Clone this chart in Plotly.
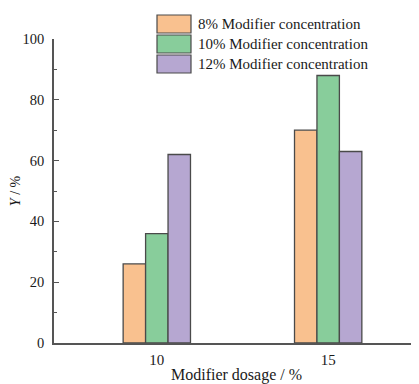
import plotly.graph_objects as go

dosage = [10, 15]
series_names = ["8% Modifier concentration", "10% Modifier concentration", "12% Modifier concentration"]
values_8 = [26, 70]
values_10 = [36, 88]
values_12 = [62, 63]
colors = ["#F9C18F", "#88CD9B", "#B6A7D1"]

# the page shows the figure with an 8px body margin
OFF = 8
W, H = 419 - OFF, 384 - OFF
ML, MR, MT, MB = 54 - OFF, 0, 39 - OFF, 41
PW, PH = W - ML - MR, H - MT - MB

def px_x(px):  # page pixel -> paper coordinate
    return (px - OFF - ML) / PW

def px_y(py):
    return (H - MB - (py - OFF)) / PH

edge = "#4a4a4a"
font = "Liberation Serif, Times New Roman, serif"

fig = go.Figure()
for name, vals, col in zip(series_names, [values_8, values_10, values_12], colors):
    fig.add_trace(go.Bar(x=dosage, y=vals, name=name, showlegend=False,
                         marker=dict(color=col, line=dict(color=edge, width=1.3))))

# manual legend (large boxes as in the reference)
shapes, annotations = [], []
for i, (name, col) in enumerate(zip(series_names, colors)):
    top = 15 + 20 * i
    shapes.append(dict(type="rect", xref="paper", yref="paper",
                       x0=px_x(157), x1=px_x(191), y0=px_y(top + 18), y1=px_y(top),
                       fillcolor=col, line=dict(color=edge, width=1.2), layer="above"))
    annotations.append(dict(text=name, xref="paper", yref="paper", x=px_x(196), y=px_y(top + 9),
                            xanchor="left", yanchor="middle", showarrow=False,
                            font=dict(size=15, family=font, color="#1a1a1a")))

fig.update_layout(
    width=W, height=H,
    margin=dict(l=ML, r=MR, t=MT, b=MB, autoexpand=False),
    barmode="group", bargap=0.607, bargroupgap=0,
    plot_bgcolor="white", paper_bgcolor="white",
    font=dict(family=font, size=14, color="#1a1a1a"),
    shapes=shapes, annotations=annotations,
)
fig.update_xaxes(range=[7, 17.65], tickvals=dosage, ticktext=[str(d) for d in dosage],
                 showline=True, linecolor="#555", linewidth=1.5, showgrid=False,
                 ticks="", zeroline=False, tickfont=dict(size=15), ticklabelstandoff=2,
                 title=dict(text="Modifier dosage / %", font=dict(size=16), standoff=6))
fig.update_yaxes(range=[0, 100], tickvals=[0, 20, 40, 60, 80, 100],
                 showline=True, linecolor="#555", linewidth=1.5, showgrid=False,
                 ticks="inside", ticklen=5, tickcolor="#555", zeroline=False,
                 tickfont=dict(size=14.5), ticklabelstandoff=5,
                 minor=dict(tickvals=[10, 30, 50, 70, 90], ticks="inside", ticklen=3, tickcolor="#555"),
                 title=dict(text="<i>Y</i> / %", font=dict(size=14), standoff=8))
fig.write_html("out.html")
